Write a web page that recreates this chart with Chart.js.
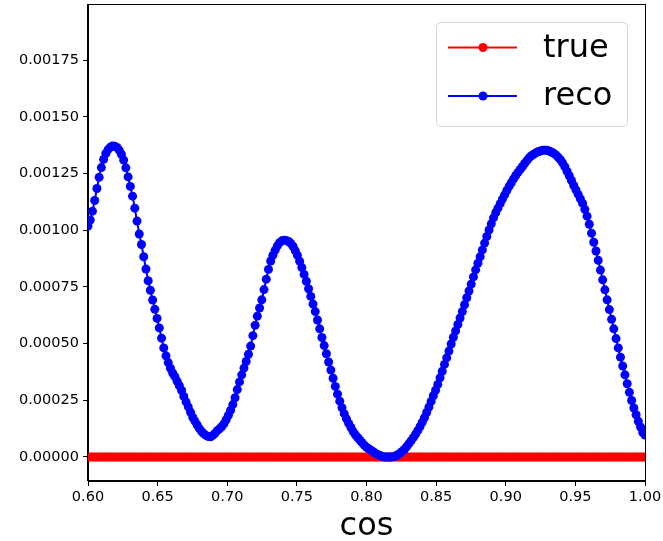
<!DOCTYPE html>
<html><head><meta charset="utf-8">
<script src="https://cdn.jsdelivr.net/npm/chart.js@4/dist/chart.umd.min.js"></script>
<style>html,body{margin:0;padding:0;background:#fff}#wrap{width:663px;height:541px}</style>
</head><body><div id="wrap"><canvas id="c" width="663" height="541"></canvas></div>
<script>
const seriesNames = ['true', 'reco'];
const xTitle = 'cos';
const xTicks = [0.60, 0.65, 0.70, 0.75, 0.80, 0.85, 0.90, 0.95, 1.00];
const yTicks = [0.00000, 0.00025, 0.00050, 0.00075, 0.00100, 0.00125, 0.00150, 0.00175];

const xValues = [
0.6000,0.6016,0.6032,0.6048,0.6064,0.6080,0.6096,0.6112,0.6128,0.6144,
0.6160,0.6176,0.6192,0.6208,0.6224,0.6240,0.6256,0.6272,0.6288,0.6304,
0.6320,0.6336,0.6352,0.6368,0.6384,0.6400,0.6416,0.6432,0.6448,0.6464,
0.6480,0.6496,0.6512,0.6528,0.6544,0.6560,0.6576,0.6592,0.6608,0.6624,
0.6640,0.6656,0.6672,0.6688,0.6704,0.6720,0.6736,0.6752,0.6768,0.6784,
0.6800,0.6816,0.6832,0.6848,0.6864,0.6880,0.6896,0.6912,0.6928,0.6944,
0.6960,0.6976,0.6992,0.7008,0.7024,0.7040,0.7056,0.7072,0.7088,0.7104,
0.7120,0.7136,0.7152,0.7168,0.7184,0.7200,0.7216,0.7232,0.7248,0.7264,
0.7280,0.7296,0.7312,0.7328,0.7344,0.7360,0.7376,0.7392,0.7408,0.7424,
0.7440,0.7456,0.7472,0.7488,0.7504,0.7520,0.7536,0.7552,0.7568,0.7584,
0.7600,0.7616,0.7632,0.7648,0.7664,0.7680,0.7696,0.7712,0.7728,0.7744,
0.7760,0.7776,0.7792,0.7808,0.7824,0.7840,0.7856,0.7872,0.7888,0.7904,
0.7920,0.7936,0.7952,0.7968,0.7984,0.8000,0.8016,0.8032,0.8048,0.8064,
0.8080,0.8096,0.8112,0.8128,0.8144,0.8160,0.8176,0.8192,0.8208,0.8224,
0.8240,0.8256,0.8272,0.8288,0.8304,0.8320,0.8336,0.8352,0.8368,0.8384,
0.8400,0.8416,0.8432,0.8448,0.8464,0.8480,0.8496,0.8512,0.8528,0.8544,
0.8560,0.8576,0.8592,0.8608,0.8624,0.8640,0.8656,0.8672,0.8688,0.8704,
0.8720,0.8736,0.8752,0.8768,0.8784,0.8800,0.8816,0.8832,0.8848,0.8864,
0.8880,0.8896,0.8912,0.8928,0.8944,0.8960,0.8976,0.8992,0.9008,0.9024,
0.9040,0.9056,0.9072,0.9088,0.9104,0.9120,0.9136,0.9152,0.9168,0.9184,
0.9200,0.9216,0.9232,0.9248,0.9264,0.9280,0.9296,0.9312,0.9328,0.9344,
0.9360,0.9376,0.9392,0.9408,0.9424,0.9440,0.9456,0.9472,0.9488,0.9504,
0.9520,0.9536,0.9552,0.9568,0.9584,0.9600,0.9616,0.9632,0.9648,0.9664,
0.9680,0.9696,0.9712,0.9728,0.9744,0.9760,0.9776,0.9792,0.9808,0.9824,
0.9840,0.9856,0.9872,0.9888,0.9904,0.9920,0.9936,0.9952,0.9968,0.9984,
1.0000];

const trueValues = [
0,0,0,0,0,0,0,0,0,0, 0,0,0,0,0,0,0,0,0,0,
0,0,0,0,0,0,0,0,0,0, 0,0,0,0,0,0,0,0,0,0,
0,0,0,0,0,0,0,0,0,0, 0,0,0,0,0,0,0,0,0,0,
0,0,0,0,0,0,0,0,0,0, 0,0,0,0,0,0,0,0,0,0,
0,0,0,0,0,0,0,0,0,0, 0,0,0,0,0,0,0,0,0,0,
0,0,0,0,0,0,0,0,0,0, 0,0,0,0,0,0,0,0,0,0,
0,0,0,0,0,0,0,0,0,0, 0,0,0,0,0,0,0,0,0,0,
0,0,0,0,0,0,0,0,0,0, 0,0,0,0,0,0,0,0,0,0,
0,0,0,0,0,0,0,0,0,0, 0,0,0,0,0,0,0,0,0,0,
0,0,0,0,0,0,0,0,0,0, 0,0,0,0,0,0,0,0,0,0,
0,0,0,0,0,0,0,0,0,0, 0,0,0,0,0,0,0,0,0,0,
0,0,0,0,0,0,0,0,0,0, 0,0,0,0,0,0,0,0,0,0,
0,0,0,0,0,0,0,0,0,0, 0];

const recoValues = [
0.001018,0.001045,0.001084,0.001131,0.001184,0.001233,0.001276,0.001312,0.001338,0.001355,
0.001366,0.001371,0.001370,0.001365,0.001353,0.001335,0.001309,0.001275,0.001235,0.001193,
0.001150,0.001097,0.001040,0.000983,0.000937,0.000883,0.000829,0.000777,0.000735,0.000692,
0.000651,0.000611,0.000569,0.000524,0.000481,0.000446,0.000416,0.000391,0.000370,0.000354,
0.000334,0.000314,0.000293,0.000267,0.000243,0.000221,0.000198,0.000175,0.000158,0.000141,
0.000125,0.000112,0.000102,0.000095,0.000090,0.000089,0.000095,0.000104,0.000116,0.000124,
0.000133,0.000146,0.000164,0.000184,0.000206,0.000231,0.000261,0.000297,0.000331,0.000362,
0.000392,0.000421,0.000453,0.000489,0.000535,0.000581,0.000621,0.000657,0.000693,0.000738,
0.000784,0.000827,0.000864,0.000890,0.000912,0.000931,0.000945,0.000953,0.000956,0.000955,
0.000950,0.000942,0.000929,0.000910,0.000889,0.000863,0.000835,0.000805,0.000775,0.000742,
0.000708,0.000674,0.000641,0.000604,0.000565,0.000527,0.000491,0.000455,0.000419,0.000383,
0.000347,0.000311,0.000277,0.000246,0.000217,0.000191,0.000168,0.000148,0.000130,0.000112,
0.000098,0.000086,0.000075,0.000063,0.000052,0.000043,0.000036,0.000030,0.000023,0.000016,
0.000011,0.000006,0.000003,0.000000,0.000000,0.000000,0.000000,0.000001,0.000004,0.000010,
0.000016,0.000024,0.000033,0.000045,0.000058,0.000071,0.000085,0.000100,0.000116,0.000133,
0.000153,0.000173,0.000196,0.000220,0.000245,0.000270,0.000294,0.000320,0.000349,0.000378,
0.000408,0.000437,0.000467,0.000498,0.000528,0.000556,0.000584,0.000613,0.000641,0.000671,
0.000702,0.000732,0.000762,0.000794,0.000825,0.000854,0.000883,0.000913,0.000943,0.000972,
0.001001,0.001028,0.001054,0.001077,0.001097,0.001117,0.001137,0.001156,0.001175,0.001193,
0.001209,0.001226,0.001241,0.001255,0.001268,0.001281,0.001294,0.001307,0.001319,0.001328,
0.001335,0.001341,0.001346,0.001349,0.001352,0.001353,0.001352,0.001349,0.001345,0.001339,
0.001332,0.001322,0.001311,0.001297,0.001280,0.001260,0.001240,0.001219,0.001197,0.001178,
0.001158,0.001138,0.001118,0.001092,0.001062,0.001026,0.000987,0.000947,0.000908,0.000867,
0.000824,0.000781,0.000737,0.000693,0.000650,0.000607,0.000565,0.000522,0.000481,0.000440,
0.000401,0.000362,0.000323,0.000285,0.000249,0.000216,0.000186,0.000157,0.000132,0.000108,
0.000097];

const colors = ['#ff0000', '#0000ff'];

function pts(vals) { return xValues.map((x, i) => ({ x: x, y: vals[i] })); }

const frameAndLegend = {
  id: 'frameAndLegend',
  afterDatasetsDraw(chart) {
    const ctx = chart.ctx, a = chart.chartArea;
    ctx.save();
    ctx.strokeStyle = '#000';
    ctx.lineWidth = 1;
    ctx.strokeRect(Math.round(a.left) - 0.5, Math.round(a.top) - 0.5, Math.round(a.right - a.left) + 1, Math.round(a.bottom - a.top));
    // legend
    const bx = 436.5, by = 22.5, bw = 191, bh = 104, r = 4;
    ctx.beginPath();
    ctx.moveTo(bx + r, by);
    ctx.lineTo(bx + bw - r, by); ctx.arcTo(bx + bw, by, bx + bw, by + r, r);
    ctx.lineTo(bx + bw, by + bh - r); ctx.arcTo(bx + bw, by + bh, bx + bw - r, by + bh, r);
    ctx.lineTo(bx + r, by + bh); ctx.arcTo(bx, by + bh, bx, by + bh - r, r);
    ctx.lineTo(bx, by + r); ctx.arcTo(bx, by, bx + r, by, r);
    ctx.closePath();
    ctx.fillStyle = 'rgba(255,255,255,0.8)';
    ctx.fill();
    ctx.strokeStyle = '#d6d6d6';
    ctx.stroke();
    const rows = [47.5, 96];
    chart.data.datasets.forEach((ds, i) => {
      const y = rows[i];
      ctx.strokeStyle = ds.borderColor;
      ctx.lineWidth = 2;
      ctx.beginPath(); ctx.moveTo(448, y); ctx.lineTo(517, y); ctx.stroke();
      ctx.fillStyle = ds.borderColor;
      ctx.beginPath(); ctx.arc(483, y, 4.5, 0, Math.PI * 2); ctx.fill();
      ctx.fillStyle = '#000';
      ctx.font = '32px "DejaVu Sans"';
      ctx.textBaseline = 'middle';
      ctx.textAlign = 'left';
      ctx.fillText(ds.label, 543, y + 1);
    });
    ctx.restore();
  }
};

const axisCommon = {
  type: 'linear',
  grid: { drawOnChartArea: false, drawTicks: true, tickLength: 5, color: '#000', tickWidth: 1 },
  border: { display: true, color: '#000', width: 1 },
};

new Chart(document.getElementById('c'), {
  type: 'line',
  data: {
    datasets: [
      { label: seriesNames[0], data: pts(trueValues), borderColor: colors[0], backgroundColor: colors[0],
        borderWidth: 2, pointRadius: 4.5, pointBorderWidth: 0, pointHoverRadius: 4.5, order: 2, clip: 0, tension: 0 },
      { label: seriesNames[1], data: pts(recoValues), borderColor: colors[1], backgroundColor: colors[1],
        borderWidth: 2, pointRadius: 4.5, pointBorderWidth: 0, pointHoverRadius: 4.5, order: 1, clip: 0, tension: 0 }
    ]
  },
  options: {
    responsive: false, animation: false, devicePixelRatio: 1,
    layout: { padding: { top: 5, right: 18, left: 0, bottom: 0 } },
    plugins: { legend: { display: false }, tooltip: { enabled: false } },
    scales: {
      x: Object.assign({}, axisCommon, {
        min: 0.6, max: 1.0,
        afterBuildTicks: s => { s.ticks = xTicks.map(v => ({ value: v })); },
        afterFit: s => { s.height = 60; s.paddingLeft = 0; s.paddingRight = 0; },
        ticks: { color: '#000', font: { family: 'DejaVu Sans', size: 14.5 }, padding: 3, maxRotation: 0, autoSkip: false,
                 callback: v => Number(v).toFixed(2) },
        title: { display: true, text: xTitle, color: '#000', font: { family: 'DejaVu Sans', size: 32, lineHeight: 1 },
                 padding: { top: 0, bottom: -2 } }
      }),
      y: Object.assign({}, axisCommon, {
        min: -0.000106, max: 0.001993,
        afterBuildTicks: s => { s.ticks = yTicks.map(v => ({ value: v })); },
        afterFit: s => { s.width = 88; s.paddingTop = 0; s.paddingBottom = 0; },
        ticks: { color: '#000', font: { family: 'DejaVu Sans', size: 14.5 }, padding: 4, autoSkip: false,
                 callback: v => Number(v).toFixed(5) }
      })
    }
  },
  plugins: [frameAndLegend]
});
</script>
</body></html>
